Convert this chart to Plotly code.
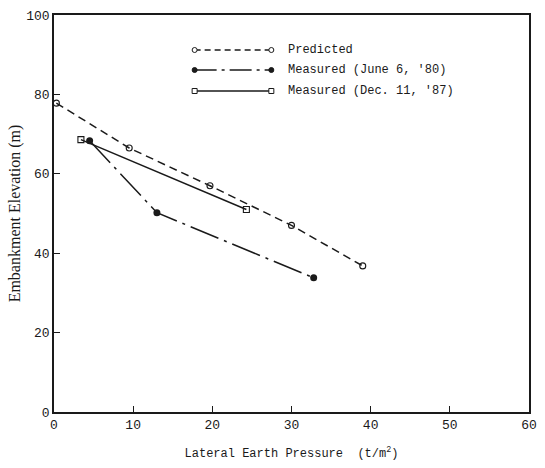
import plotly.graph_objects as go

# Data
pred_x = [0.3, 9.5, 19.7, 30.0, 39.0]
pred_y = [77.8, 66.5, 57.0, 47.0, 36.8]

june_x = [4.5, 13.0, 32.8]
june_y = [68.3, 50.2, 33.8]

dec_x = [3.4, 24.3]
dec_y = [68.6, 51.0]

legend_labels = ["Predicted", "Measured (June 6, '80)", "Measured (Dec. 11, '87)"]
x_ticks = [0, 10, 20, 30, 40, 50, 60]
y_ticks = [0, 20, 40, 60, 80, 100]

INK = "#1a1a1a"
MONO = "Liberation Mono, Courier New, monospace"

fig = go.Figure()
fig.add_trace(go.Scatter(
    x=pred_x, y=pred_y, mode="lines+markers", showlegend=False,
    line=dict(color=INK, width=1.5, dash="8px,5px"),
    marker=dict(symbol="circle-open", size=6, color=INK, line=dict(width=1.1))))
fig.add_trace(go.Scatter(
    x=june_x, y=june_y, mode="lines+markers", showlegend=False,
    line=dict(color=INK, width=1.5, dash="30px,6px,3px,6px"),
    marker=dict(symbol="circle", size=7, color=INK)))
fig.add_trace(go.Scatter(
    x=dec_x, y=dec_y, mode="lines+markers", showlegend=False,
    line=dict(color=INK, width=1.5),
    marker=dict(symbol="square-open", size=6, color=INK, line=dict(width=1.1))))

# Custom legend (markers at both ends of the sample line)
L, T, B = 54, 15, 412
W, H = 545, 468
pw, ph = 537 - L, B - T

def px2paper(px, py):
    return (px - L) / pw, (B - py) / ph

styles = [
    dict(dash="6px,4px", kind="circle", fill="white"),
    dict(dash="22px,5px,3px,5px", kind="circle", fill=INK),
    dict(dash="solid", kind="rect", fill="white"),
]
rows_py = [50, 70, 91]
x0p, x1p = 197, 275
for lab, st, py in zip(legend_labels, styles, rows_py):
    a0, b0 = px2paper(x0p, py)
    a1, _ = px2paper(x1p, py)
    fig.add_shape(type="line", xref="paper", yref="paper", x0=a0, x1=a1, y0=b0, y1=b0,
                  line=dict(color=INK, width=1.3, dash=st["dash"]))
    for ax in (a0, a1):
        fig.add_shape(type=st["kind"], xref="paper", yref="paper",
                      xsizemode="pixel", ysizemode="pixel", xanchor=ax, yanchor=b0,
                      x0=-2.5, x1=2.5, y0=-2.5, y1=2.5,
                      fillcolor=st["fill"], line=dict(color=INK, width=1))
    tx, _ = px2paper(290, py)
    fig.add_annotation(x=tx, y=b0, xref="paper", yref="paper", text=lab, showarrow=False,
                       xanchor="left", yanchor="middle",
                       font=dict(family=MONO, size=12, color=INK))

fig.update_layout(
    width=W, height=H,
    margin=dict(l=L, r=W - 537, t=T, b=H - B),
    paper_bgcolor="white", plot_bgcolor="white",
    xaxis=dict(range=[0, 60], tickvals=x_ticks, ticks="inside", ticklen=6, tickcolor=INK,
               showline=True, linecolor=INK, linewidth=1.5, mirror=True, showgrid=False,
               zeroline=False,
               tickfont=dict(family=MONO, size=13, color=INK),
               title=dict(text="Lateral Earth Pressure  (t/m<sup>2</sup>)",
                          font=dict(family=MONO, size=12, color=INK), standoff=16)),
    yaxis=dict(range=[0, 100], tickvals=y_ticks, ticks="inside", ticklen=6, tickcolor=INK,
               showline=True, linecolor=INK, linewidth=1.5, mirror=True, showgrid=False,
               zeroline=False,
               tickfont=dict(family=MONO, size=13, color=INK),
               title=dict(text="Embankment Elevation (m)",
                          font=dict(family="Liberation Serif, Times New Roman, serif", size=16, color=INK),
                          standoff=2)),
)

fig.write_html("out.html")
